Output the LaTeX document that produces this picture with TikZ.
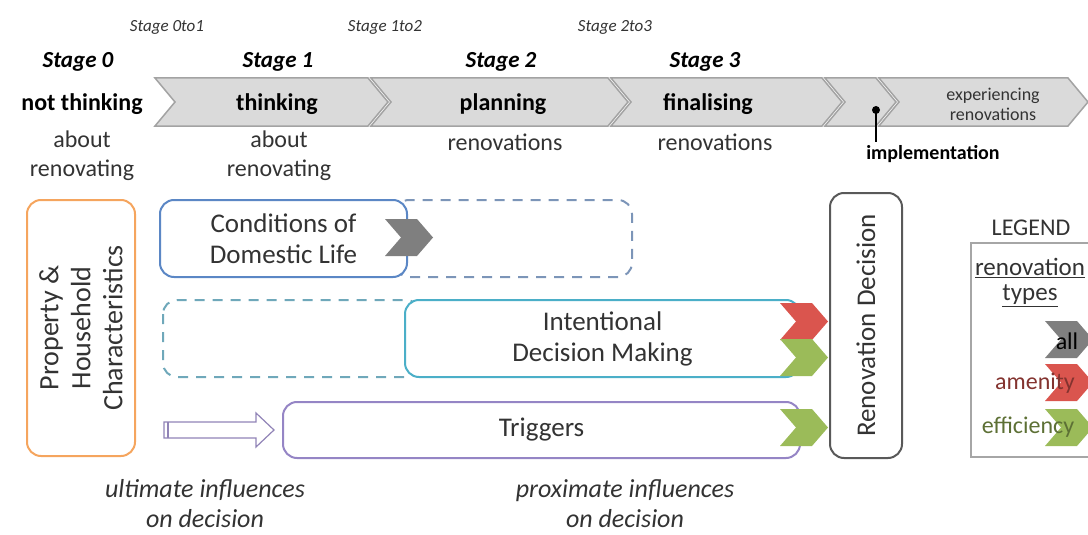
\documentclass[tikz,border=0pt]{standalone}
\usepackage{fontspec}
\setmainfont{Carlito}
\usetikzlibrary{positioning}

\definecolor{bandgrey}{HTML}{DADADA}
\definecolor{bandline}{HTML}{A3A3A3}
\definecolor{condblue}{HTML}{5B87C5}
\definecolor{conddash}{HTML}{7C95B8}
\definecolor{intteal}{HTML}{4BAFC8}
\definecolor{intdash}{HTML}{6FA8BA}
\definecolor{trigpurple}{HTML}{9585C5}
\definecolor{proporange}{HTML}{F5A55E}
\definecolor{decgrey}{HTML}{595959}
\definecolor{tipgrey}{HTML}{7F7F7F}
\definecolor{tipred}{HTML}{DA554E}
\definecolor{tipgreen}{HTML}{9BBB59}
\definecolor{txtgrey}{HTML}{333333}

\newcommand\tipmark[3]{\fill[#3] (#1,#2) -- ++(32,0) -- ++(16,18.5) -- ++(-16,18.5) -- ++(-32,0) -- ++(16,-18.5) -- cycle;}

\begin{document}
\begin{tikzpicture}[x=1pt,y=-1pt,
    band/.style={fill=bandgrey,draw=bandline,line width=1.5pt,line join=miter},
    box/.style={draw,line width=2pt,rounded corners=14pt,inner sep=0pt},
    dashbox/.style={line width=2pt,rounded corners=14pt,dash pattern=on 10pt off 8pt},
    stagehead/.style={font=\fontsize{23}{26}\selectfont\bfseries\itshape},
    stagetrans/.style={font=\fontsize{17}{20}\selectfont\itshape,text=txtgrey},
    stname/.style={font=\fontsize{24}{28}\selectfont\bfseries},
    stsub/.style={font=\fontsize{24}{29}\selectfont,align=center,text=txtgrey},
    boxtext/.style={font=\fontsize{27}{31}\selectfont,align=center,text=txtgrey},
    influence/.style={font=\fontsize{26}{30}\selectfont\itshape,align=center,text=txtgrey},
    legtext/.style={font=\fontsize{24}{26}\selectfont}]
\useasboundingbox (0,0) rectangle (1088,535);
\clip (0,0) rectangle (1088,535);

% stage band
\foreach \a/\b in {155/368, 371/608, 611/822, 825/876, 879/1068}
    \draw[band] (\a,78) -- (\b,78) -- (\b+20,102) -- (\b,126) -- (\a,126) -- (\a+20,102) -- cycle;

\node[stagetrans] (t01) at (167,27) {Stage 0to1};
\node[stagetrans] (t12) at (385,27) {Stage 1to2};
\node[stagetrans] (t23) at (615,27) {Stage 2to3};

\node[stagehead] (s0) at (78,62) {Stage 0};
\node[stagehead] (s1) at (278,62) {Stage 1};
\node[stagehead] (s2) at (501,62) {Stage 2};
\node[stagehead] (s3) at (705,62) {Stage 3};

\node[stname] (n0) at (82,104) {not thinking};
\node[stname] (n1) at (277,104) {thinking};
\node[stname] (n2) at (503,104) {planning};
\node[stname] (n3) at (708,104) {finalising};

\node[stsub] (u0) at (82,156) {about\\renovating};
\node[stsub] (u1) at (279,156) {about\\renovating};
\node[stsub] (u2) at (505,142) {renovations};
\node[stsub] (u3) at (715,142) {renovations};

\node[font=\fontsize{18}{20}\selectfont,align=center,text=txtgrey] (exp) at (993,104) {experiencing\\renovations};

\coordinate (impdot) at (876,110);
\node[font=\fontsize{20}{22}\selectfont\bfseries] (impl) at (933,154) {implementation};
\fill (impdot) circle (4);
\draw[line width=1.5pt] (impdot) -- (impdot |- impl.north);

% influence boxes
\node[box,draw=proporange,rotate=90,minimum width=256pt,minimum height=108pt,
      font=\fontsize{28}{32}\selectfont,align=center,text=txtgrey] (prop) at (81,328)
      {Property \&\\Household\\Characteristics};

\draw[dashbox,draw=conddash] (395,200) rectangle (632,277);
\node[box,draw=condblue,fill=white,minimum width=247pt,minimum height=77pt,boxtext] (cond) at (283.5,238.5)
      {Conditions of\\Domestic Life};
\tipmark{385}{219}{tipgrey}

\draw[dashbox,draw=intdash] (163,300) rectangle (420,377);
\node[box,draw=intteal,fill=white,minimum width=395pt,minimum height=77pt,boxtext] (intent) at (602.5,338.5)
      {Intentional\\Decision Making};

\node[box,draw=trigpurple,minimum width=517pt,minimum height=56pt,boxtext] (trig) at (541.5,430) {Triggers};

\begin{scope}[shift={(trig.west)}]
    \draw[draw=trigpurple!80!gray,fill=white,line width=1.2pt]
        (-118,-8) -- (-26,-8) -- (-26,-17) -- (-8,0) -- (-26,17) -- (-26,8) -- (-118,8) -- cycle;
    \draw[trigpurple!80!gray,line width=2pt] (-114,-8) -- (-114,8);
\end{scope}

\tipmark{780}{303}{tipred}
\tipmark{780}{339}{tipgreen}
\tipmark{780}{409}{tipgreen}

\node[box,draw=decgrey,rotate=90,minimum width=265pt,minimum height=72pt,boxtext] (dec) at (866,325.5)
      {Renovation Decision};

% legend
\node[legtext,text=txtgrey] (legend) at (1031,228) {LEGEND};
\draw[draw=gray!70,line width=1.5pt] (971,243) rectangle (1110,457);
\node[font=\fontsize{25}{27}\selectfont,text=txtgrey] (ltype) at (1030,268) {\underline{renovation}};
\node[font=\fontsize{25}{27}\selectfont,text=txtgrey] (ltype2) at (1030,296) {\underline{types}};
\tipmark{1045}{321}{tipgrey}
\tipmark{1045}{364}{tipred}
\tipmark{1045}{409}{tipgreen}
\node[legtext] (lall) at (1067,341) {all};
\node[legtext,text=tipred!60!black] (lamen) at (1035,383) {amenity};
\node[legtext,text=tipgreen!60!black] (leff) at (1028,427) {efficiency};

\node[influence] (ult) at (205,504) {ultimate influences\\on decision};
\node[influence] (prox) at (625,504) {proximate influences\\on decision};
\end{tikzpicture}
\end{document}
